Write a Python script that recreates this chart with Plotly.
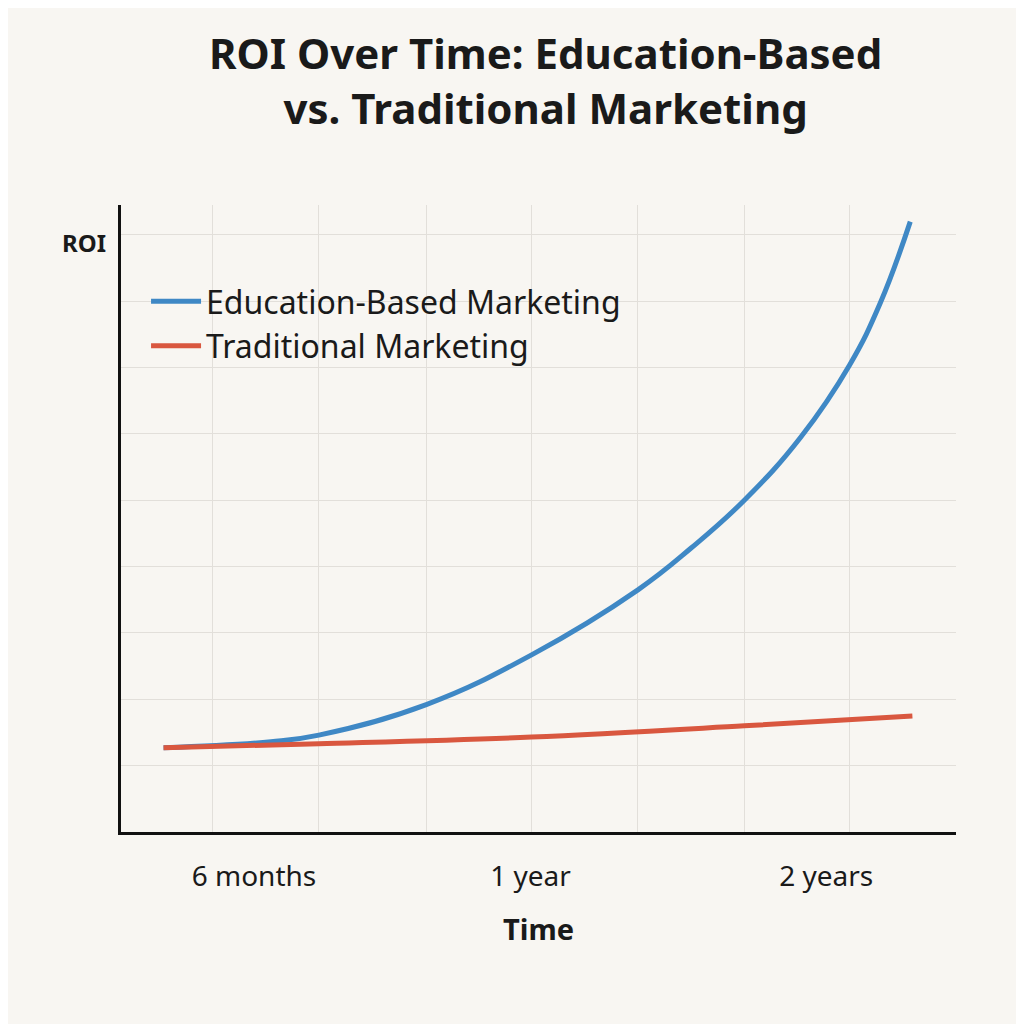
import plotly.graph_objects as go

# x in grid units (one vertical grid line per unit), y in grid units
edu_x = [0.40, 1.41, 1.86, 2.87, 3.86, 4.86, 5.36, 5.86, 6.39, 6.85, 7.14, 7.42]
edu_y = [1.27, 1.36, 1.46, 1.92, 2.67, 3.65, 4.28, 5.0, 5.95, 7.04, 7.98, 9.2]
trad_x = [0.40, 1.86, 3.86, 5.86, 7.44]
trad_y = [1.27, 1.33, 1.43, 1.60, 1.75]

tick_vals = [1.25, 3.85, 6.63]
tick_text = ["6 months", "1 year", "2 years"]
grid_x = [0.86, 1.86, 2.87, 3.86, 4.86, 5.86, 6.85, 7.85]

bg = "#f8f6f2"
font = "Noto Sans"

fig = go.Figure()
fig.add_trace(go.Scatter(x=edu_x, y=edu_y, mode="lines", name="Education-Based Marketing",
                         line=dict(color="#3f88c5", width=5, shape="spline", smoothing=1.2)))
fig.add_trace(go.Scatter(x=trad_x, y=trad_y, mode="lines", name="Traditional Marketing",
                         line=dict(color="#d9573f", width=5, shape="spline")))

fig.update_layout(
    width=1024, height=1024,
    paper_bgcolor=bg, plot_bgcolor=bg,
    margin=dict(l=113, r=76, t=197, b=200),
    font=dict(family=font, color="#1a1a1a"),
    title=dict(text="<b>ROI Over Time: Education-Based<br>vs. Traditional Marketing</b>",
               x=0.525, xanchor="center", y=0.94, yanchor="top",
               font=dict(size=42, family=font)),
    legend=dict(x=0.03, y=0.89, xanchor="left", yanchor="top", bgcolor="rgba(0,0,0,0)",
                font=dict(size=32), itemwidth=50, tracegroupgap=35),
    showlegend=True,
)
fig.update_xaxes(range=[0, 7.85], tickvals=tick_vals, ticktext=tick_text, showgrid=False,
                 ticks="outside", ticklen=17, tickcolor=bg, tickfont=dict(size=28),
                 minor=dict(tickvals=grid_x, showgrid=True, gridcolor="#e2dfda", gridwidth=1),
                 showline=True, linecolor="#111111", linewidth=3, zeroline=False,
                 title=dict(text="<b>Time</b>", font=dict(size=29), standoff=28))
fig.update_yaxes(range=[0, 9.45], dtick=1, showticklabels=False, showgrid=True,
                 gridcolor="#e2dfda", gridwidth=1, showline=True, linecolor="#111111",
                 linewidth=3, zeroline=False)
fig.add_annotation(text="<b>ROI</b>", xref="paper", yref="paper", x=-0.015, y=0.94,
                   xanchor="right", yanchor="middle", showarrow=False, font=dict(size=24))

fig.write_html("out.html")
